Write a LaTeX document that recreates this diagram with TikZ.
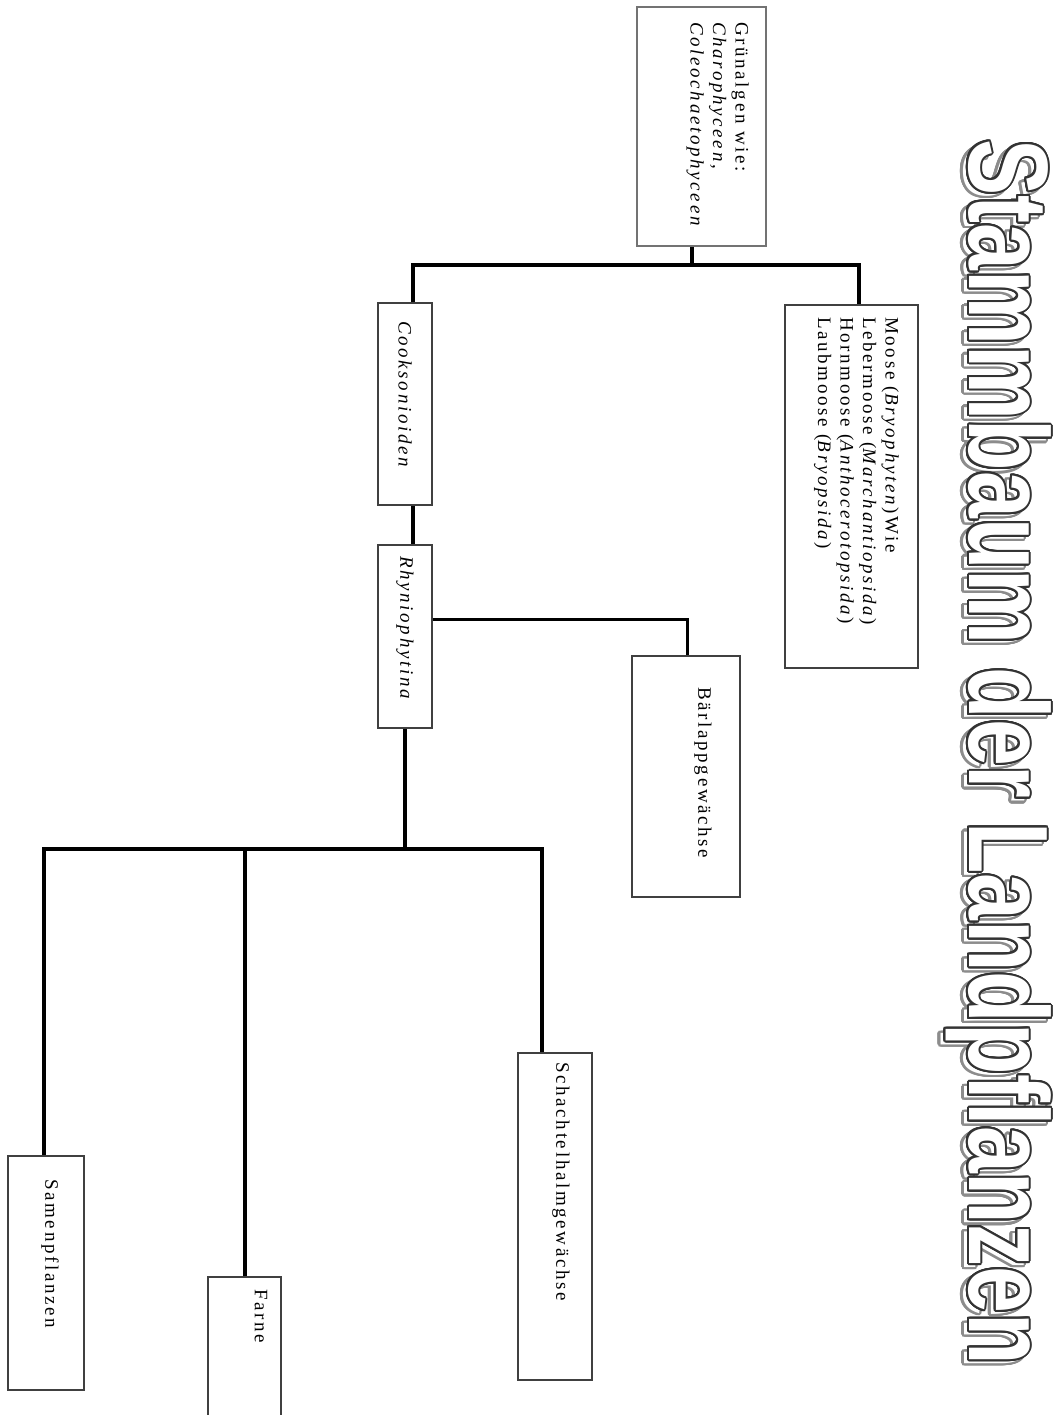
\documentclass[tikz,border=0pt]{standalone}
\usepackage{fontspec}
\setmainfont{Liberation Serif}
\newfontfamily\ttlfont{Liberation Sans}
\newfontfamily\boxfont[LetterSpace=14]{Liberation Serif}
\newcommand\ttltext{\scalebox{0.745}[1]{\ttlfont\bfseries\fontsize{113}{113}\selectfont Stammbaum der Landpflanzen}}
\begin{document}
\begin{tikzpicture}[x=1pt,y=1pt,
  box/.style={draw=black!75, line width=1.6pt, rectangle, inner sep=0pt},
  conn/.style={line width=4pt, black},
  connthin/.style={line width=3pt, black},
  lbl/.style={rotate=-90, inner sep=0pt, font=\boxfont\fontsize{19}{22.5}\selectfont, align=left},
  ttl/.style={rotate=-90, inner sep=0pt, anchor=base west}]
\useasboundingbox (0,0) rectangle (1062,-1415);
\fill[white] (0,0) rectangle (1062,-1415);

% title with shadow and outline
\foreach \a in {0,15,...,345}{
  \node[ttl, text=black!45, shift={(\a:2.2)}] (tsr\a) at (964,-143) {\ttltext};
}
\node[ttl, text=white] (tsf) at (964,-143) {\ttltext};
\foreach \a in {0,15,...,345}{
  \node[ttl, text=black!80, shift={(\a:2)}] (tmr\a) at (969,-139) {\ttltext};
}
\node[ttl, text=white] (title) at (969,-139) {\ttltext};

% boxes
\node[box, draw=black!55, minimum width=129, minimum height=239] (gruen) at (701.5,-126.5) {};
\node[box, minimum width=133, minimum height=363] (moose) at (851.5,-486.5) {};
\node[box, minimum width=54, minimum height=202] (cook) at (405,-404) {};
\node[box, minimum width=54, minimum height=183] (rhyn) at (405,-636.5) {};
\node[box, minimum width=108, minimum height=241] (baer) at (686,-776.5) {};
\node[box, minimum width=74, minimum height=327] (schach) at (555,-1216.5) {};
\node[box, minimum width=73, minimum height=153] (farne) at (244.5,-1353.5) {};
\node[box, minimum width=76, minimum height=234] (samen) at (46,-1273) {};

% texts
\node[lbl, anchor=north west] (gruen-t) at (749,-22) {Grünalgen wie:\\ \textit{Charophyceen,}\\ \textit{Coleochaetophyceen}};
\node[lbl, anchor=north west] (moose-t) at (899,-317) {Moose (\textit{Bryophyten})Wie\\ Lebermoose (\textit{Marchantiopsida})\\ Hornmoose (\textit{Anthocerotopsida})\\ Laubmoose (\textit{Bryopsida})};
\node[lbl, anchor=west] (cook-t) at (405,-321) {\textit{Cooksonioiden}};
\node[lbl, anchor=west] (rhyn-t) at (405,-556) {\textit{Rhyniophytina}};
\node[lbl, anchor=west] (baer-t) at (703,-687) {Bärlappgewächse};
\node[lbl, anchor=west] (schach-t) at (561,-1062) {Schachtelhalmgewächse};
\node[lbl, anchor=west] (samen-t) at (50,-1179) {Samenpflanzen};
\node[lbl, anchor=west] (farne-t) at (261,-1289) {Farne};

% connectors
\coordinate (jg) at (692,-265);
\coordinate (jc) at (413,-265);
\coordinate (jm) at (859,-265);
\draw[conn] (jg |- gruen.south) -- (jg);
\draw[conn] (jc |- cook.north) -- (jc) -- (jm) -- (jm |- moose.north);
\draw[conn] (jc |- cook.south) -- (jc |- rhyn.north);
\coordinate (jb) at (687,-619);
\draw[connthin] (rhyn.east |- jb) -- (jb) -- (jb |- baer.north);
\coordinate (jr) at (405,-849);
\coordinate (js) at (542,-849);
\coordinate (jsa) at (44,-849);
\draw[conn] (rhyn.south) -- (jr);
\draw[conn] (js |- schach.north) -- (js) -- (jsa) -- (jsa |- samen.north);
\draw[conn] (farne.north) -- (farne.north |- jr);
\end{tikzpicture}
\end{document}
